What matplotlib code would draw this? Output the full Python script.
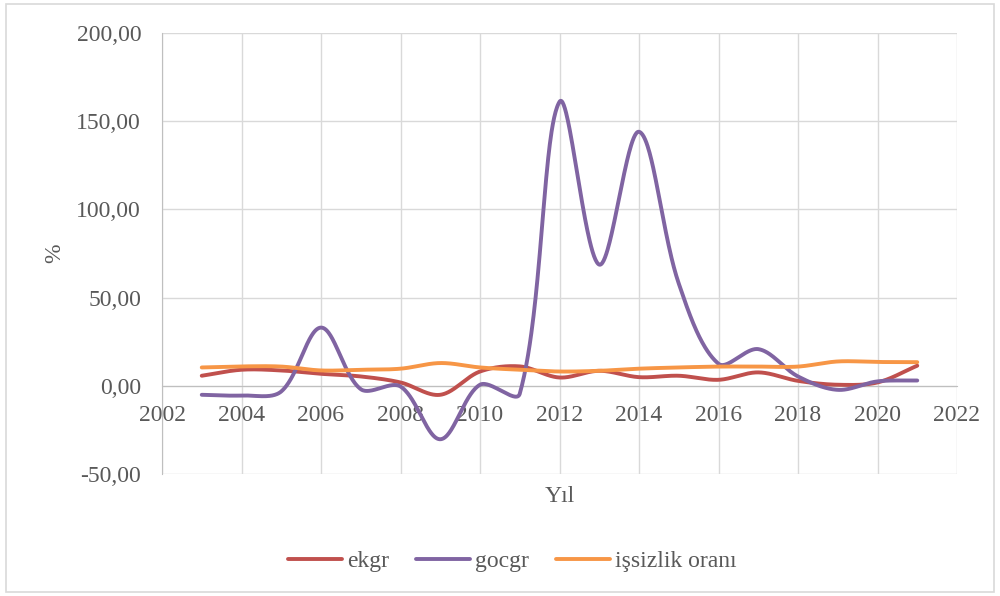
import numpy as np
import matplotlib
matplotlib.use("Agg")
import matplotlib.pyplot as plt
from matplotlib.ticker import FuncFormatter, MultipleLocator
from matplotlib.patches import Rectangle

years = [2003, 2004, 2005, 2006, 2007, 2008, 2009, 2010, 2011, 2012,
         2013, 2014, 2015, 2016, 2017, 2018, 2019, 2020, 2021]
ekgr = [5.7, 9.1, 8.7, 6.8, 5.3, 1.9, -5.1, 8.1, 11.0, 4.7,
        8.5, 4.9, 5.7, 3.4, 7.6, 2.8, 0.6, 1.9, 11.4]
gocgr = [-5.1, -5.5, -3.2, 33.0, -1.9, -0.4, -30.3, 0.6, -4.5, 161.0,
         68.7, 144.0, 58.0, 12.5, 20.8, 5.3, -2.3, 2.5, 3.0]
issizlik = [10.4, 11.0, 10.9, 8.7, 9.1, 9.7, 12.9, 10.4, 9.1, 8.1,
            8.5, 9.7, 10.4, 10.9, 10.9, 10.9, 13.8, 13.5, 13.4]

series_names = ["ekgr", "gocgr", "işsizlik oranı"]
colors = ["#C0504D", "#8064A2", "#F79646"]

# pixel scale used for chord-length weighting (Excel-style smoothing)
PX_X = 39.75   # px per year
PX_Y = 1.76    # px per unit


def smooth(xs, ys, n=60):
    """Excel-style smoothed line: cubic Bezier, handles weighted by chord lengths."""
    P = np.column_stack([xs, ys]).astype(float)
    S = np.array([PX_X, PX_Y])
    pts = np.vstack([P[0], P, P[-1]])
    out = []
    t = np.linspace(0, 1, n)[:, None]

    def d(a, b):
        return np.hypot(*((b - a) * S))

    for i in range(1, len(pts) - 2):
        p0, p1, p2, p3 = pts[i - 1], pts[i], pts[i + 1], pts[i + 2]
        d01, d12, d23 = d(p0, p1), d(p1, p2), d(p2, p3)
        f1 = d12 / (d01 + d12) if (d01 + d12) > 0 else 0.5
        f2 = d12 / (d12 + d23) if (d12 + d23) > 0 else 0.5
        c1 = p1 + (p2 - p0) * f1 / 3.0
        c2 = p2 - (p3 - p1) * f2 / 3.0
        seg = ((1 - t) ** 3) * p1 + 3 * ((1 - t) ** 2) * t * c1 + 3 * (1 - t) * t ** 2 * c2 + t ** 3 * p2
        out.append(seg if i == 1 else seg[1:])
    arr = np.vstack(out)
    return arr[:, 0], arr[:, 1]


plt.rcParams['font.family'] = ['Liberation Serif', 'DejaVu Serif']
text_color = "#595959"
FS = 17

fig = plt.figure(figsize=(10, 5.96), dpi=100)
ax = fig.add_axes([0.162, 1 - 474 / 596, (957 - 162) / 1000, (474 - 33) / 596])

for vals, name, c in zip([ekgr, gocgr, issizlik], series_names, colors):
    sx, sy = smooth(years, vals)
    ax.plot(sx, sy, color=c, lw=2.8, label=name, solid_capstyle='round', zorder=3)

ax.set_xlim(2002, 2022)
ax.set_ylim(-50, 200)
ax.xaxis.set_major_locator(MultipleLocator(2))
ax.yaxis.set_major_locator(MultipleLocator(50))
ax.yaxis.set_major_formatter(FuncFormatter(lambda v, p: f"{v:.2f}".replace(".", ",")))
ax.xaxis.set_major_formatter(FuncFormatter(lambda v, p: f"{int(round(v))}"))

ax.grid(True, color="#D9D9D9", lw=1.0, zorder=0)
ax.set_axisbelow(True)
for s in ["top", "right"]:
    ax.spines[s].set_visible(False)
ax.spines['bottom'].set_position(('data', 0))
ax.spines['bottom'].set_color("#BFBFBF")
ax.spines['left'].set_color("#BFBFBF")
ax.tick_params(axis='both', length=0, labelsize=FS, colors=text_color)
ax.tick_params(axis='x', pad=14)
ax.tick_params(axis='y', pad=15)

ax.text(2012.0, -62.5, "Yıl", ha='center', va='center', fontsize=FS, color=text_color)
fig.text(0.055, 1 - 253 / 596, "%", rotation=90, ha='center', va='center', fontsize=FS, color=text_color)

leg = fig.legend(loc='center', bbox_to_anchor=(0.512, 1 - 561 / 596), ncol=3, frameon=False,
                 fontsize=FS, handlelength=2.3, handletextpad=0.2, columnspacing=1.15)
for t in leg.get_texts():
    t.set_color(text_color)

fig.patches.append(Rectangle((6 / 1000, 4 / 596), 988 / 1000, 588 / 596, transform=fig.transFigure,
                             fill=False, edgecolor="#D9D9D9", lw=1.2))

fig.savefig("out.png", dpi=100)
